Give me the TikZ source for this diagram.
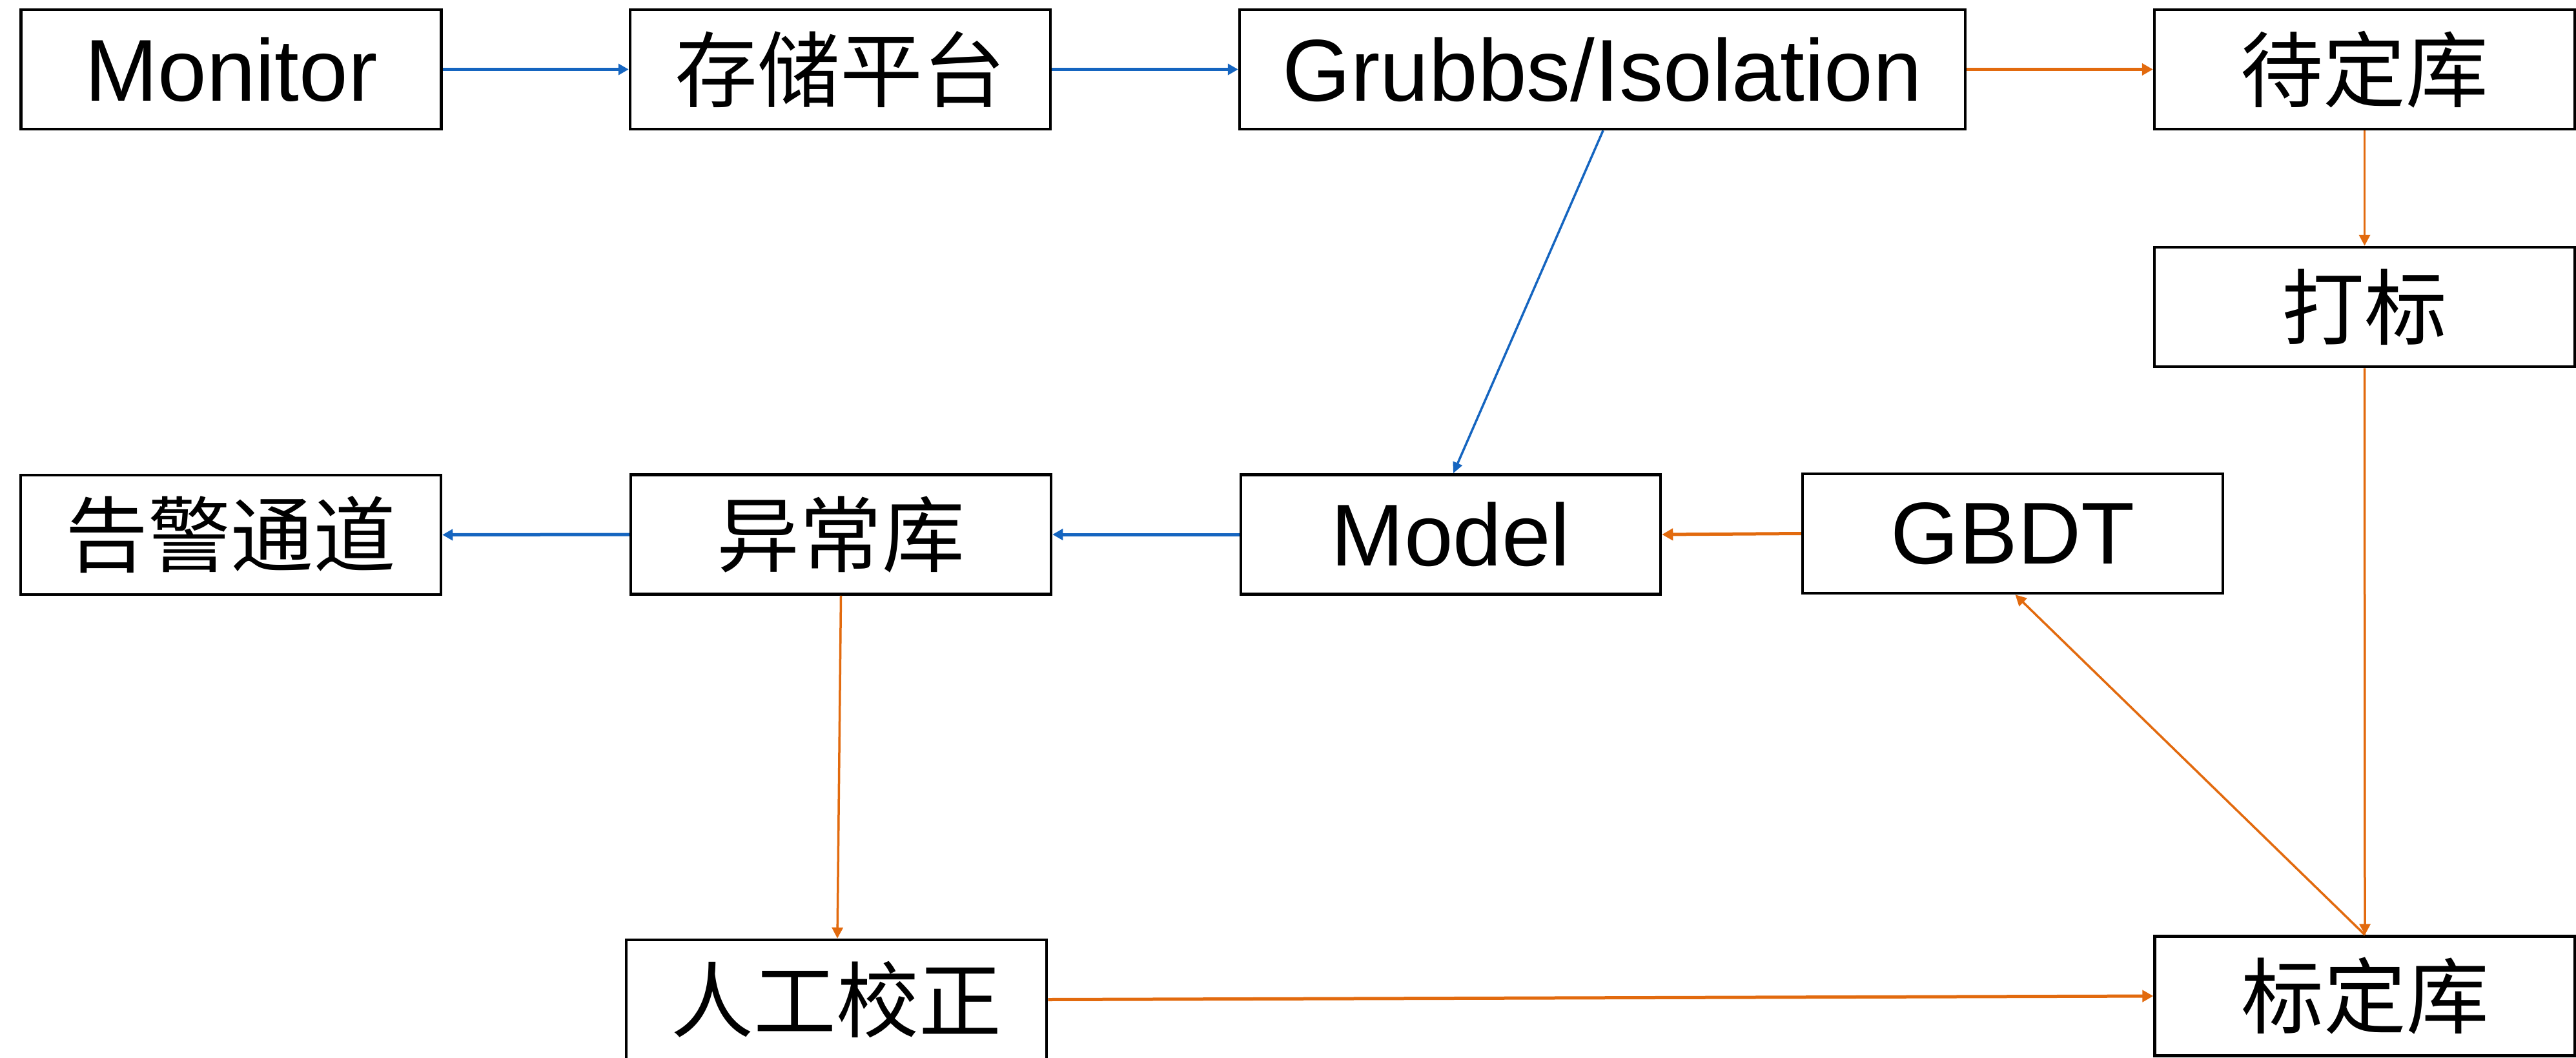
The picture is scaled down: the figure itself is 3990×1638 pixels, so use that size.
\documentclass[tikz,border=0pt]{standalone}
\usepackage{fontspec}
\setmainfont{Liberation Sans}
\newfontfamily\cjk{Noto Sans CJK SC}
\usetikzlibrary{arrows.meta}
\definecolor{fblue}{RGB}{21,101,192}
\definecolor{forange}{RGB}{226,106,14}
\tikzset{
  box/.style={draw=black, line width=4.5pt, minimum width=651pt, minimum height=185pt, inner sep=0pt, font=\fontsize{136}{140}\selectfont},
  cbox/.style={box, font=\cjk\fontsize{128}{140}\selectfont},
  bluearr/.style={draw=fblue, line width=5pt, -{Triangle[length=16pt,width=17pt]}},
  orangearr/.style={draw=forange, line width=5pt, -{Triangle[length=17pt,width=18pt]}},
  thinorange/.style={draw=forange, line width=3.5pt, -{Triangle[length=17pt,width=17pt]}},
  thinblue/.style={draw=fblue, line width=3.5pt, -{Triangle[length=17pt,width=15pt]}}
}
\begin{document}
\begin{tikzpicture}[x=1pt,y=-1pt]
\useasboundingbox[fill=white] (0,0) rectangle (3990,1638);
% top row
\node[box] (mon) at (358,107.5) {Monitor};
\node[cbox] (store) at (1301.5,107.5) {存储平台};
\node[box, minimum width=1124pt] (grubbs) at (2482,107.5) {Grubbs/Isolation};
\node[cbox] (pend) at (3662.5,107.5) {待定库};
\node[cbox] (mark) at (3662.5,475.5) {打标};
% middle row
\node[cbox] (alarm) at (357.5,828.5) {告警通道};
\node[cbox] (anom) at (1302.5,828) {异常库};
\node[box, minimum width=650pt] (model) at (2247,828) {Model};
\node[box] (gbdt) at (3117.5,826.5) {GBDT};
% bottom row
\node[cbox] (manual) at (1295.5,1548.5) {人工校正};
\node[cbox] (calib) at (3663,1543) {标定库};
% connectors
\draw[bluearr] (mon.east) -- (store.west);
\draw[bluearr] (store.east) -- (grubbs.west);
\draw[orangearr] (grubbs.east) -- (pend.west);
\draw[thinblue] ([xshift=1pt]grubbs.south) -- ([xshift=4pt]model.north);
\draw[thinorange] (pend.south) -- (mark.north);
\draw[thinorange] (mark.south) -- (calib.north);
\draw[orangearr] (gbdt.west) -- (model.east);
\draw[thinorange] (calib.north) -- ([xshift=4pt]gbdt.south);
\draw[bluearr] (model.west) -- (anom.east);
\draw[bluearr] (anom.west) -- (alarm.east);
\draw[thinorange] (anom.south) -- ([xshift=1.5pt]manual.north);
\draw[orangearr] (manual.east) -- (calib.west);
\end{tikzpicture}
\end{document}
